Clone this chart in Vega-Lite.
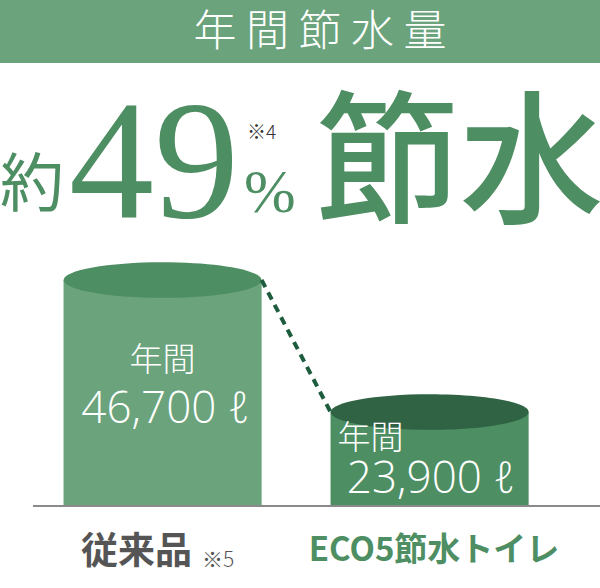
{
  "$schema": "https://vega.github.io/schema/vega-lite/v6.json",
  "background": "white",
  "padding": 0,
  "spacing": 0,
  "config": {"view": {"stroke": null}, "concat": {"spacing": 0}, "axis": {"grid": false}},
  "datasets": {
    "water": [
      {"product": "従来品", "liters": 46700, "note": "※5"},
      {"product": "ECO5節水トイレ", "liters": 23900, "note": ""}
    ]
  },
  "vconcat": [
    {
      "width": 600,
      "height": 63,
      "view": {"fill": "#6aa37c", "stroke": null},
      "data": {"values": [{}]},
      "mark": {"type": "text", "text": "年 間 節 水 量", "font": "Noto Sans CJK JP", "fontSize": 43, "fontWeight": 300, "color": "white", "baseline": "middle", "dx": 20, "dy": 1},
      "encoding": {}
    },
    {
      "width": 600,
      "height": 195,
      "data": {"values": [{}]},
      "layer": [
        {"mark": {"type": "text", "text": "約", "font": "Noto Sans CJK JP", "fontSize": 64, "color": "#4e8e63", "baseline": "middle", "dx": -268, "dy": 26}, "encoding": {}},
        {"mark": {"type": "text", "text": "49", "font": "Liberation Serif", "fontSize": 170, "color": "#4e8e63", "align": "left", "baseline": "alphabetic", "dx": -231, "dy": 56.5}, "encoding": {}},
        {"mark": {"type": "text", "text": "※4", "font": "Noto Sans CJK JP", "fontSize": 19, "fontWeight": 300, "color": "#333333", "align": "left", "baseline": "middle", "dx": -53, "dy": -27.5}, "encoding": {}},
        {"mark": {"type": "text", "text": "%", "font": "Liberation Serif", "fontSize": 62, "color": "#4e8e63", "align": "left", "baseline": "alphabetic", "dx": -56, "dy": 51.5}, "encoding": {}},
        {"mark": {"type": "text", "text": "節水", "font": "Noto Sans CJK JP", "fontSize": 144, "fontWeight": 500, "color": "#4e8e63", "baseline": "middle", "dx": 159.5, "dy": 9.5}, "encoding": {}}
      ]
    },
    {
      "width": 600,
      "height": 248,
      "data": {"name": "water"},
      "transform": [{"calculate": "format(datum.liters, ',') + ' ℓ'", "as": "label"}],
      "encoding": {
        "x": {
          "field": "product",
          "type": "nominal",
          "sort": null,
          "scale": {"domain": ["従来品", "ECO5節水トイレ"], "paddingInner": 0.258, "paddingOuter": 0.2526, "align": 0.471},
          "axis": {
            "title": null,
            "ticks": false,
            "domain": false,
            "labelAngle": 0,
            "labelFont": "Noto Sans CJK JP",
            "labelFontWeight": "bold",
            "labelFontSize": {"condition": {"test": "datum.value === '従来品'", "value": 37}, "value": 33},
            "labelColor": {"condition": {"test": "datum.value === '従来品'", "value": "#555555"}, "value": "#4e8e63"},
            "labelOffset": {"condition": {"test": "datum.value === '従来品'", "value": -26}, "value": 4.5},
            "labelPadding": 28,
            "labelLimit": 400
          }
        },
        "y": {
          "field": "liters",
          "type": "quantitative",
          "stack": null,
          "scale": {"domain": [7660, 50500], "zero": false, "nice": false},
          "axis": null
        }
      },
      "layer": [
        {
          "mark": {"type": "bar"},
          "encoding": {
            "y2": {"value": "height"},
            "color": {"field": "product", "type": "nominal", "scale": {"domain": ["従来品", "ECO5節水トイレ"], "range": ["#6aa37c", "#4e8e63"]}, "legend": null}
          }
        },
        {
          "mark": {"type": "point", "filled": true, "opacity": 1, "strokeWidth": 0, "size": 39204, "shape": "M-1,0A1,0.18,0,1,1,1,0A1,0.18,0,1,1,-1,0Z"},
          "encoding": {
            "fill": {"field": "product", "type": "nominal", "scale": {"domain": ["従来品", "ECO5節水トイレ"], "range": ["#4e8e63", "#2f6344"]}, "legend": null}
          }
        },
        {
          "transform": [{"pivot": "product", "value": "liters"}],
          "mark": {"type": "rule", "color": "#8a8a8a", "strokeWidth": 2},
          "encoding": {
            "x": {"datum": "従来品", "type": "nominal", "bandPosition": -0.154},
            "x2": {"value": "width"},
            "y": {"value": "height"}
          }
        },
        {
          "transform": [{"pivot": "product", "value": "liters"}],
          "mark": {"type": "rule", "color": "#1e5c3e", "strokeWidth": 4, "strokeDash": [8, 6]},
          "encoding": {
            "x": {"datum": "従来品", "type": "nominal", "bandPosition": 1},
            "x2": {"datum": "ECO5節水トイレ", "bandPosition": 0},
            "y": {"field": "従来品", "type": "quantitative"},
            "y2": {"field": "ECO5節水トイレ"}
          }
        },
        {
          "transform": [{"filter": "datum.product === '従来品'"}],
          "mark": {"type": "text", "text": "年間", "font": "Noto Sans CJK JP", "fontWeight": 300, "fontSize": 33, "color": "white", "baseline": "middle", "dy": 81}
        },
        {
          "transform": [{"filter": "datum.product === '従来品'"}],
          "mark": {"type": "text", "font": "Open Sans", "fontWeight": 300, "fontSize": 44, "color": "white", "baseline": "alphabetic", "dx": 3, "dy": 143},
          "encoding": {"text": {"field": "label"}}
        },
        {
          "transform": [{"filter": "datum.product === 'ECO5節水トイレ'"}],
          "mark": {"type": "text", "text": "年間", "font": "Noto Sans CJK JP", "fontWeight": 300, "fontSize": 33, "color": "white", "baseline": "middle", "dx": -59, "dy": 27}
        },
        {
          "transform": [{"filter": "datum.product === 'ECO5節水トイレ'"}],
          "mark": {"type": "text", "font": "Open Sans", "fontWeight": 300, "fontSize": 44, "color": "white", "baseline": "alphabetic", "dx": 1.5, "dy": 81},
          "encoding": {"text": {"field": "label"}}
        },
        {
          "transform": [{"filter": "datum.note !== ''"}],
          "mark": {"type": "text", "font": "Noto Sans CJK JP", "fontWeight": 300, "fontSize": 21, "color": "#555555", "align": "left", "baseline": "alphabetic", "dx": 39.5, "dy": 61},
          "encoding": {"y": {"value": "height"}, "text": {"field": "note"}}
        }
      ]
    }
  ]
}
